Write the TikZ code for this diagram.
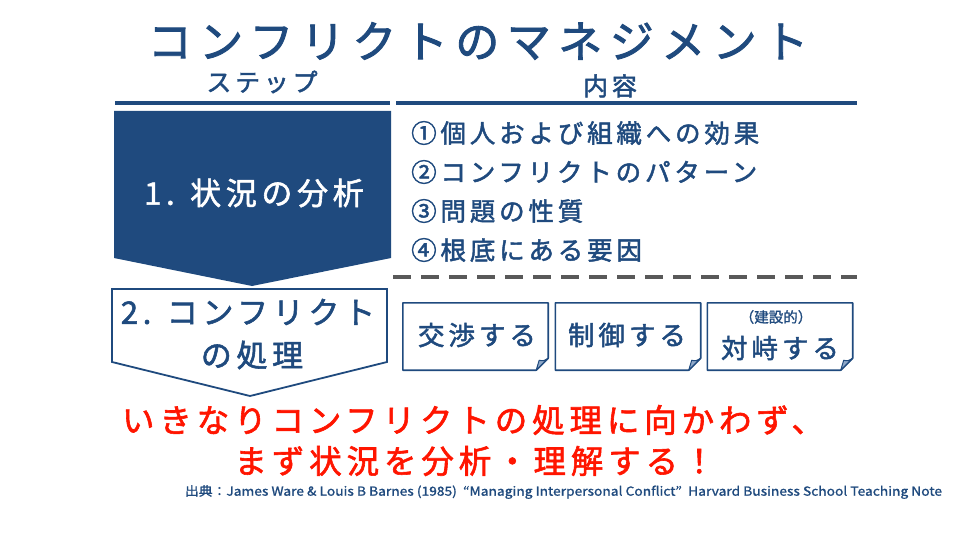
\documentclass[tikz,border=0pt]{standalone}
\usepackage{fontspec}
\usepackage{graphicx}
\newfontfamily\jp[LetterSpace=15,FakeBold=1.8]{Noto Sans CJK JP}
\newfontfamily\jpT[LetterSpace=17,FakeBold=2]{Noto Sans CJK JP}
\newfontfamily\jpN[FakeBold=1.2]{Noto Sans CJK JP}
\definecolor{navy}{HTML}{1F4A7E}
\definecolor{alertred}{HTML}{FF1500}
\definecolor{dashgray}{HTML}{595959}
\definecolor{flapblue}{HTML}{8FA8C8}
\tikzset{
  txt/.style={inner sep=0pt, text=navy},
  title/.style={txt, font=\jpT\fontsize{44}{44}\selectfont},
  head/.style={txt, font=\jp\fontsize{25}{25}\selectfont},
  item/.style={txt, anchor=west, font=\jp\fontsize{25.5}{25.5}\selectfont},
  steptxt/.style={inner sep=0pt, font=\jp\fontsize{31}{31}\selectfont},
  notetxt/.style={txt, font=\jp\fontsize{26.5}{26.5}\selectfont},
  notesmall/.style={txt, font=\jpN\fontsize{14.5}{14.5}\selectfont},
  redtxt/.style={inner sep=0pt, text=alertred, font=\jp\fontsize{32.5}{32.5}\selectfont},
  notebox/.style={draw=navy, line width=1.6pt, fill=white, line join=round},
  flap/.style={draw=navy, line width=1pt, fill=flapblue, line join=round},
  notenode/.style={inner sep=0pt, minimum width=145pt, minimum height=67pt},
  rule/.style={draw=navy, line width=3.5pt},
}
\newcommand{\stickyshape}[1]{%
  \path[notebox] (#1.north west) -- (#1.north east) -- ([yshift=12pt]#1.south east)
     -- ([xshift=-12pt]#1.south east) -- (#1.south west) -- cycle;
  \path[flap] ([yshift=12pt]#1.south east) .. controls ([xshift=-5pt,yshift=9pt]#1.south east) .. ([xshift=-9pt,yshift=10pt]#1.south east)
     .. controls ([xshift=-10pt,yshift=5pt]#1.south east) .. ([xshift=-12pt]#1.south east) -- cycle;
}
\begin{document}
\begin{tikzpicture}[x=1pt,y=-1pt]
\useasboundingbox (0,0) rectangle (960,540);
\fill[white] (0,0) rectangle (960,540);

% title and headers
\node[title] (ttl) at (478,41) {コンフリクトのマネジメント};
\node[head] (hstep) at (262,82) {ステップ};
\node[head] (hcont) at (610,86) {内容};

% rules
\coordinate (l1a) at (115,103); \coordinate (l1b) at (390,103);
\coordinate (l2a) at (396,103); \coordinate (l2b) at (857,103);
\draw[rule] (l1a) -- (l1b);
\draw[rule] (l2a) -- (l2b);

% step 1 (filled chevron)
\coordinate (s1a) at (114,111); \coordinate (s1b) at (391,111);
\coordinate (s1c) at (391,258); \coordinate (s1d) at (252,286);
\coordinate (s1e) at (114,258);
\fill[navy] (s1a) -- (s1b) -- (s1c) -- (s1d) -- (s1e) -- cycle;
\node[steptxt, text=white] (s1t) at (254,193) {1. 状況の分析};

% step 2 (outlined chevron)
\coordinate (s2a) at (112,289); \coordinate (s2b) at (387,289);
\coordinate (s2c) at (387,362); \coordinate (s2d) at (250,396);
\coordinate (s2e) at (112,362);
\draw[navy, line width=1.8pt, fill=white, line join=miter] (s2a) -- (s2b) -- (s2c) -- (s2d) -- (s2e) -- cycle;
\node[steptxt, text=navy] (s2t1) at (248,312) {2. コンフリクト};
\node[steptxt, text=navy] (s2t2) at (252,355) {の処理};

% content list
\node[item] (i1) at (411,133) {①個人および組織への効果};
\node[item] (i2) at (411,172) {②コンフリクトのパターン};
\node[item] (i3) at (411,211) {③問題の性質};
\node[item] (i4) at (411,250) {④根底にある要因};

% dashed separator
\coordinate (da) at (393,277); \coordinate (db) at (857,277);
\draw[dashgray, line width=4pt, dash pattern=on 18pt off 10pt] (da) -- (db);

% sticky notes
\node[notenode] (n1) at (475.5,336.5) {};
\node[notenode] (n2) at (628,336.5) {};
\node[notenode] (n3) at (780,336.5) {};
\stickyshape{n1}
\stickyshape{n2}
\stickyshape{n3}
\node[notetxt] (n1t) at (477,335) {交渉する};
\node[notetxt] (n2t) at (627,335) {制御する};
\node[notetxt] (n3t) at (780,348) {対峙する};
\node[notesmall] (n3s) at (776,317) {（建設的）};

% red message
\node[redtxt] (r1) at (473,420) {いきなりコンフリクトの処理に向かわず、};
\node[redtxt] (r2) at (475,461) {まず状況を分析・理解する！};

% citation
\node[txt] (cite) at (563.5,492) {\resizebox{757pt}{10.5pt}{\jpN\fontsize{12}{12}\selectfont 出典：James Ware \& Louis B Barnes (1985)\ \ “Managing Interpersonal Conflict”\ \ Harvard Business School Teaching Note}};
\end{tikzpicture}
\end{document}
